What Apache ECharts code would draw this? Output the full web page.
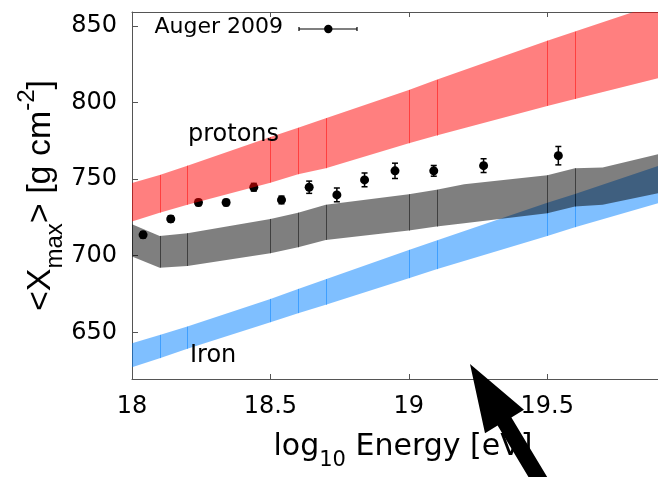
<!DOCTYPE html>
<html><head><meta charset="utf-8">
<script src="https://cdn.jsdelivr.net/npm/echarts@6/dist/echarts.min.js"></script>
<style>html,body{margin:0;padding:0;background:#fff}#c{width:658px;height:477px}</style>
</head><body><div id="c"></div>
<script>
// ---- data ----
const xTicks = [18, 18.5, 19, 19.5];
const yTicks = [650, 700, 750, 800, 850];
const seamX = [18.1, 18.2, 18.5, 18.6, 18.7, 19.0, 19.1, 19.5, 19.6];

const protonX    = [18.0, 18.1, 18.2, 18.5, 18.6, 18.7, 19.0, 19.1, 19.5, 19.6, 19.9];
const protonLow  = [722.3, 728.1, 733.2, 747.7, 753.2, 757.1, 773.4, 778.4, 797.8, 802.3, 815.9];
const protonHigh = [747.4, 752.7, 758.8, 777.5, 783.5, 789.8, 808.2, 814.8, 840.4, 846.3, 864.5];

const ironX    = [18.0, 18.1, 18.2, 18.5, 18.6, 18.7, 19.0, 19.1, 19.5, 19.6, 19.9];
const ironLow  = [627.2, 633.1, 639.2, 656.6, 662.5, 667.9, 685.3, 691.2, 712.9, 718.6, 734.3];
const ironHigh = [642.9, 648.3, 653.7, 671.8, 678.3, 684.7, 703.8, 709.9, 734.5, 740.3, 758.6];

const mixX    = [18.0, 18.1, 18.2, 18.5, 18.6, 18.7, 19.0, 19.1, 19.2, 19.5, 19.6, 19.7, 19.9];
const mixLow  = [699.4, 692.2, 693.3, 701.6, 705.5, 710.3, 716.4, 719.0, 721.2, 727.7, 732.1, 733.2, 740.8];
const mixHigh = [720.6, 712.9, 714.7, 724.0, 728.1, 733.2, 740.1, 743.0, 746.7, 752.5, 757.1, 757.5, 766.3];

const augerE   = [18.04, 18.14, 18.24, 18.34, 18.44, 18.54, 18.64, 18.74, 18.84, 18.95, 19.09, 19.27, 19.54];
const augerX   = [713.6, 724.0, 734.7, 734.7, 744.7, 736.4, 744.7, 739.7, 749.5, 755.4, 755.4, 758.8, 765.3];
const augerErr = [2, 2, 2, 2, 2.5, 2.5, 4, 4.5, 4.5, 5, 3.5, 4.5, 6];

// ---- chart ----
const chart = echarts.init(document.getElementById('c'), null, {renderer: 'canvas'});

function bandSeries(name, xs, lo, hi, color, z) {
  const data = xs.map((x, i) => [x, lo[i], hi[i]]);
  return {
    type: 'custom', name: name, z: z, clip: true, silent: true,
    data: data,
    encode: {x: 0, y: [1, 2]},
    renderItem: function (params, api) {
      const i = params.dataIndex;
      const children = [];
      if (i === 0) {
        const pts = [];
        for (let k = 0; k < data.length; k++) pts.push(api.coord([data[k][0], data[k][2]]));
        for (let k = data.length - 1; k >= 0; k--) pts.push(api.coord([data[k][0], data[k][1]]));
        children.push({type: 'polygon', shape: {points: pts}, style: {fill: color}});
      }
      const x = api.value(0);
      if (seamX.some(s => Math.abs(s - x) < 1e-6)) {
        const a = api.coord([x, api.value(1)]);
        const b = api.coord([x, api.value(2)]);
        const px = Math.round(a[0]) + 0.5;
        children.push({type: 'line', shape: {x1: px, y1: a[1], x2: px, y2: b[1]},
          style: {stroke: color, lineWidth: 1}});
      }
      return {type: 'group', children: children};
    }
  };
}

const axisColor = '#555';
const labelFont = {fontFamily: 'DejaVu Sans', fontSize: 24, color: '#000'};

const option = {
  animation: false,
  backgroundColor: '#fff',
  grid: {left: 132, right: 0, top: 12, bottom: 98, containLabel: false, outerBoundsMode: 'none'},
  xAxis: [{
    type: 'value', min: 18, max: 19.9, position: 'bottom',
    axisLine: {show: true, lineStyle: {color: axisColor, width: 1}},
    axisTick: {show: true, inside: true, length: 5, customValues: xTicks, lineStyle: {color: axisColor}},
    axisLabel: Object.assign({customValues: xTicks, margin: 16, formatter: v => String(v)}, labelFont),
    splitLine: {show: false}
  }, {
    type: 'value', min: 18, max: 19.9, position: 'top',
    axisLine: {show: true, lineStyle: {color: axisColor, width: 1}},
    axisTick: {show: true, inside: true, length: 5, customValues: xTicks, lineStyle: {color: axisColor}},
    axisLabel: {show: false},
    splitLine: {show: false}
  }],
  yAxis: [{
    type: 'value', min: 619.5, max: 859.1, position: 'left',
    axisLine: {show: true, lineStyle: {color: axisColor, width: 1}},
    axisTick: {show: true, inside: true, length: 6, customValues: yTicks, lineStyle: {color: axisColor}},
    axisLabel: Object.assign({customValues: yTicks, margin: 15}, labelFont),
    splitLine: {show: false}
  }],
  series: [
    bandSeries('Iron', ironX, ironLow, ironHigh, 'rgba(0,127,255,0.5)', 2),
    bandSeries('Mixed', mixX, mixLow, mixHigh, 'rgba(0,0,0,0.5)', 3),
    {
      type: 'custom', name: 'Auger 2009 errors', z: 4, silent: true,
      data: augerE.map((e, i) => [e, augerX[i] - augerErr[i], augerX[i] + augerErr[i]]),
      encode: {x: 0, y: [1, 2]},
      renderItem: function (params, api) {
        const lo = api.coord([api.value(0), api.value(1)]);
        const hi = api.coord([api.value(0), api.value(2)]);
        const x = lo[0];
        const st = {stroke: '#000', lineWidth: 1.5};
        return {type: 'group', children: [
          {type: 'line', shape: {x1: x, y1: lo[1], x2: x, y2: hi[1]}, style: st},
          {type: 'line', shape: {x1: x - 3, y1: lo[1], x2: x + 3, y2: lo[1]}, style: st},
          {type: 'line', shape: {x1: x - 3, y1: hi[1], x2: x + 3, y2: hi[1]}, style: st}
        ]};
      }
    },
    {
      type: 'scatter', name: 'Auger 2009', z: 5, silent: true,
      data: augerE.map((e, i) => [e, augerX[i]]),
      symbol: 'circle', symbolSize: 9,
      itemStyle: {color: '#000', opacity: 1}
    },
    bandSeries('protons', protonX, protonLow, protonHigh, 'rgba(255,0,0,0.5)', 6)
  ],
  graphic: [
    // y-axis title
    {type: 'text', x: 41, y: 195.5, rotation: Math.PI / 2, z: 10,
      style: {
        text: '{m|<X}{s|max}{m|> [g cm}{p|-2}{m|]}',
        align: 'center', verticalAlign: 'middle',
        rich: {
          m: {fontFamily: 'Liberation Sans', fontSize: 34, lineHeight: 52, fill: '#000'},
          s: {fontFamily: 'Liberation Sans', fontSize: 24, lineHeight: 36, verticalAlign: 'bottom', fill: '#000'},
          p: {fontFamily: 'Liberation Sans', fontSize: 24, lineHeight: 24, verticalAlign: 'top', fill: '#000'}
        }
      }},
    // x-axis title
    {type: 'text', x: 403, y: 447, z: 10,
      style: {
        text: '{m|log}{s|10}{m| Energy [eV]}',
        align: 'center', verticalAlign: 'middle',
        rich: {
          m: {fontFamily: 'DejaVu Sans', fontSize: 30, lineHeight: 48, fill: '#000'},
          s: {fontFamily: 'DejaVu Sans', fontSize: 21, lineHeight: 21, verticalAlign: 'bottom', fill: '#000'}
        }
      }},
    // band labels
    {type: 'text', x: 188, y: 134.5, z: 10,
      style: {text: 'protons', fontFamily: 'DejaVu Sans', fontSize: 24, fill: '#000', align: 'left', verticalAlign: 'middle'}},
    {type: 'text', x: 190, y: 356, z: 10,
      style: {text: 'Iron', fontFamily: 'DejaVu Sans', fontSize: 24, fill: '#000', align: 'left', verticalAlign: 'middle'}},
    // legend
    {type: 'text', x: 283, y: 27.7, z: 10,
      style: {text: 'Auger 2009', fontFamily: 'DejaVu Sans', fontSize: 22, fill: '#000', align: 'right', verticalAlign: 'middle'}},
    {type: 'line', z: 10, shape: {x1: 299, y1: 29, x2: 357, y2: 29}, style: {stroke: '#000', lineWidth: 1.2}},
    {type: 'line', z: 10, shape: {x1: 299, y1: 27, x2: 299, y2: 31}, style: {stroke: '#000', lineWidth: 1.2}},
    {type: 'line', z: 10, shape: {x1: 357, y1: 27, x2: 357, y2: 31}, style: {stroke: '#000', lineWidth: 1.2}},
    {type: 'circle', z: 10, shape: {cx: 328.3, cy: 29, r: 4.2}, style: {fill: '#000'}},
    // arrow annotation
    {type: 'polygon', z: 20, shape: {points: [
      [470, 364], [524, 409.8], [511.4, 417.4], [552.6, 486], [538.8, 494.2], [497.6, 425.6], [485, 433.2]
    ]}, style: {fill: '#000'}}
  ]
};
chart.setOption(option);
</script>
</body></html>
